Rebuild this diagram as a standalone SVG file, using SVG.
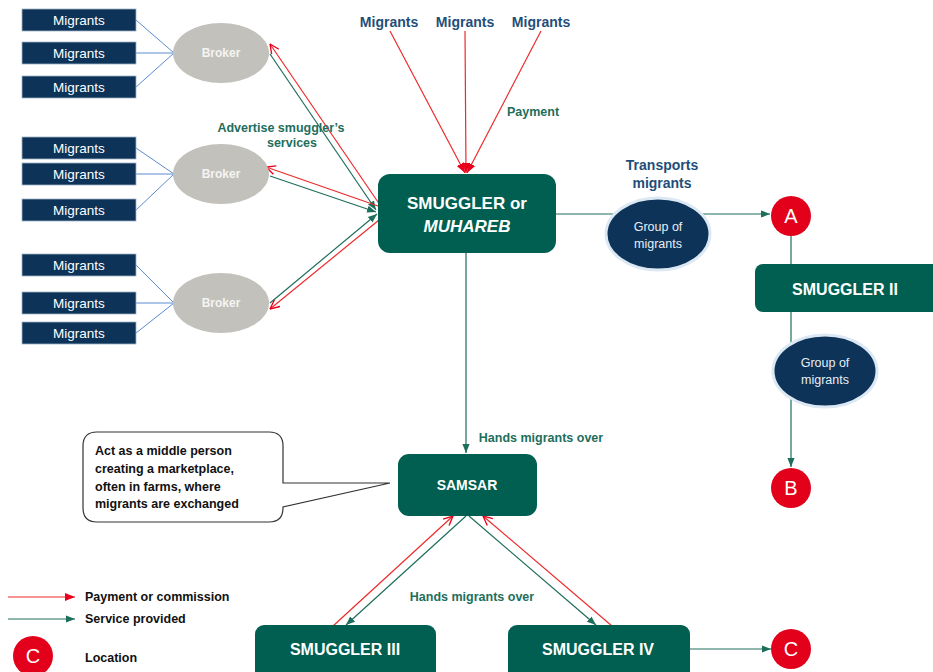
<svg xmlns="http://www.w3.org/2000/svg" width="933" height="672" viewBox="0 0 933 672">
<defs>
<style>
.mig{fill:#0d3358;stroke:#9fb3c8;stroke-width:0.8}
.migt{font-family:"Liberation Sans",Arial,sans-serif;font-size:13.5px;fill:#ffffff;text-anchor:middle}
.brk{fill:#c3c1bc}
.brkt{font-family:"Liberation Sans",Arial,sans-serif;font-size:12px;font-weight:bold;fill:#f4f4f2;text-anchor:middle}
.box{fill:#005f50}
.boxt{font-family:"Liberation Sans",Arial,sans-serif;font-size:16px;font-weight:bold;fill:#ffffff;text-anchor:middle}
.grp{fill:#0d3358;stroke:#dce8f3;stroke-width:3}
.grpt{font-family:"Liberation Sans",Arial,sans-serif;font-size:12.5px;fill:#e8eef5;text-anchor:middle}
.loc{fill:#e2001a}
.loct{font-family:"Liberation Sans",Arial,sans-serif;font-size:20px;fill:#ffffff;text-anchor:middle}
.lbl{font-family:"Liberation Sans",Arial,sans-serif;font-size:12.5px;font-weight:bold;fill:#1e6e5c;text-anchor:middle}
.nlbl{font-family:"Liberation Sans",Arial,sans-serif;font-size:14px;font-weight:bold;fill:#1f4e79;text-anchor:middle}
.leg{font-family:"Liberation Sans",Arial,sans-serif;font-size:12.5px;font-weight:bold;fill:#111111}
.call{font-family:"Liberation Sans",Arial,sans-serif;font-size:12.5px;font-weight:bold;fill:#111111}
.blue{stroke:#5b8bd0;stroke-width:1;fill:none}
.red{stroke:#ee2a2a;stroke-width:1.2;fill:none}
.grn{stroke:#1e6e5c;stroke-width:1.2;fill:none}
</style>
<marker id="ro" viewBox="0 0 10 10" refX="9.5" refY="5" markerWidth="11" markerHeight="11" orient="auto" markerUnits="userSpaceOnUse">
<path d="M1,1 L9.5,5 L1,9" fill="none" stroke="#e8001c" stroke-width="1.2"/>
</marker>
<marker id="rf" viewBox="0 0 10 10" refX="10" refY="5" markerWidth="10" markerHeight="10" orient="auto" markerUnits="userSpaceOnUse">
<path d="M0,1 L10,5 L0,9 z" fill="#e8001c"/>
</marker>
<marker id="gf" viewBox="0 0 10 10" refX="10" refY="5" markerWidth="9" markerHeight="9" orient="auto" markerUnits="userSpaceOnUse">
<path d="M0,1 L10,5 L0,9 z" fill="#1e6e5c"/>
</marker>
</defs>
<rect width="933" height="672" fill="#ffffff"/>

<g id="connectors">
<path class="blue" d="M136,20 L174,53 M136,53 L174,53 M136,87 L174,53"/>
<path class="blue" d="M136,148 L174,174 M136,174 L174,174 M136,210 L174,174"/>
<path class="blue" d="M136,265 L174,303 M136,303 L174,303 M136,333 L174,303"/>
<line class="red" x1="380" y1="205" x2="270" y2="44" marker-end="url(#ro)"/>
<line class="grn" x1="270" y1="54" x2="376" y2="210" marker-end="url(#gf)"/>
<line class="red" x1="378" y1="206" x2="266" y2="167" marker-end="url(#ro)"/>
<line class="grn" x1="270" y1="176" x2="376" y2="212" marker-end="url(#gf)"/>
<line class="grn" x1="270" y1="303" x2="377" y2="214" marker-end="url(#gf)"/>
<line class="red" x1="379" y1="220" x2="270" y2="309" marker-end="url(#ro)"/>
<line class="red" x1="390" y1="31" x2="465" y2="173" marker-end="url(#rf)"/>
<line class="red" x1="465" y1="31" x2="466" y2="173" marker-end="url(#rf)"/>
<line class="red" x1="541" y1="31" x2="467" y2="173" marker-end="url(#rf)"/>
<line class="grn" x1="556" y1="214" x2="770" y2="214" marker-end="url(#gf)"/>
<line class="grn" x1="791" y1="236" x2="791" y2="467" marker-end="url(#gf)"/>
<line class="grn" x1="466" y1="253" x2="466" y2="453" marker-end="url(#gf)"/>
<line class="red" x1="333" y1="626" x2="453" y2="516" marker-end="url(#ro)"/>
<line class="grn" x1="466" y1="516" x2="346" y2="625" marker-end="url(#gf)"/>
<line class="grn" x1="469" y1="516" x2="596" y2="625" marker-end="url(#gf)"/>
<line class="red" x1="612" y1="626" x2="483" y2="516" marker-end="url(#ro)"/>
<line class="grn" x1="690" y1="649" x2="771" y2="649" marker-end="url(#gf)"/>
</g>

<g id="migrants-1"><rect class="mig" x="22" y="9" width="114" height="22"/><text class="migt" x="79" y="25">Migrants</text></g>
<g id="migrants-2"><rect class="mig" x="22" y="42" width="114" height="22"/><text class="migt" x="79" y="58">Migrants</text></g>
<g id="migrants-3"><rect class="mig" x="22" y="76" width="114" height="22"/><text class="migt" x="79" y="92">Migrants</text></g>
<g id="migrants-4"><rect class="mig" x="22" y="137" width="114" height="22"/><text class="migt" x="79" y="153">Migrants</text></g>
<g id="migrants-5"><rect class="mig" x="22" y="163" width="114" height="22"/><text class="migt" x="79" y="179">Migrants</text></g>
<g id="migrants-6"><rect class="mig" x="22" y="199" width="114" height="22"/><text class="migt" x="79" y="215">Migrants</text></g>
<g id="migrants-7"><rect class="mig" x="22" y="254" width="114" height="22"/><text class="migt" x="79" y="270">Migrants</text></g>
<g id="migrants-8"><rect class="mig" x="22" y="292" width="114" height="22"/><text class="migt" x="79" y="308">Migrants</text></g>
<g id="migrants-9"><rect class="mig" x="22" y="322" width="114" height="22"/><text class="migt" x="79" y="338">Migrants</text></g>

<g id="broker-1"><ellipse class="brk" cx="221" cy="53" rx="48" ry="30"/><text class="brkt" x="221" y="57">Broker</text></g>
<g id="broker-2"><ellipse class="brk" cx="221" cy="174" rx="48" ry="30"/><text class="brkt" x="221" y="178">Broker</text></g>
<g id="broker-3"><ellipse class="brk" cx="221" cy="303" rx="48" ry="30"/><text class="brkt" x="221" y="307">Broker</text></g>

<g id="top-migrants">
<text class="nlbl" x="389" y="27">Migrants</text>
<text class="nlbl" x="465" y="27">Migrants</text>
<text class="nlbl" x="541" y="27">Migrants</text>
</g>

<g id="labels">
<text class="lbl" x="533" y="116">Payment</text>
<text class="lbl" x="281" y="132">Advertise smuggler’s</text>
<text class="lbl" x="292" y="147">services</text>
<text class="nlbl" x="662" y="170">Transports</text>
<text class="nlbl" x="662" y="188">migrants</text>
<text class="lbl" x="541" y="442">Hands migrants over</text>
<text class="lbl" x="472" y="601">Hands migrants over</text>
</g>

<g id="smuggler">
<rect class="box" x="378" y="174" width="178" height="79" rx="12"/>
<text class="boxt" x="467" y="209" style="font-size:17px">SMUGGLER or</text>
<text class="boxt" x="467" y="232" style="font-size:17px;font-style:italic">MUHAREB</text>
</g>

<g id="group-1"><ellipse class="grp" cx="658" cy="234" rx="52" ry="36"/><text class="grpt" x="658" y="231">Group of</text><text class="grpt" x="658" y="248">migrants</text></g>

<g id="loc-a"><circle class="loc" cx="791" cy="216" r="20"/><text class="loct" x="791" y="223">A</text></g>

<g id="smuggler-2"><rect class="box" x="755" y="264" width="190" height="48" rx="8"/><text class="boxt" x="845" y="295">SMUGGLER II</text></g>

<g id="group-2"><ellipse class="grp" cx="825" cy="371" rx="52" ry="36"/><text class="grpt" x="825" y="367">Group of</text><text class="grpt" x="825" y="384">migrants</text></g>

<g id="loc-b"><circle class="loc" cx="791" cy="488" r="20"/><text class="loct" x="791" y="495">B</text></g>

<g id="samsar"><rect class="box" x="398" y="454" width="139" height="62" rx="11"/><text class="boxt" x="467" y="490" style="font-size:14px">SAMSAR</text></g>

<g id="callout">
<path d="M97,432 H269 Q283,432 283,446 V483 L390,483 L283,507 V508 Q283,522 269,522 H97 Q83,522 83,508 V446 Q83,432 97,432 Z" fill="#ffffff" stroke="#333333" stroke-width="1.2"/>
<text class="call" x="95" y="455">Act as a middle person</text>
<text class="call" x="95" y="473">creating a marketplace,</text>
<text class="call" x="95" y="491">often in farms, where</text>
<text class="call" x="95" y="508">migrants are exchanged</text>
</g>

<g id="smuggler-3"><rect class="box" x="255" y="625" width="181" height="60" rx="9"/><text class="boxt" x="345" y="655">SMUGGLER III</text></g>
<g id="smuggler-4"><rect class="box" x="508" y="625" width="182" height="60" rx="9"/><text class="boxt" x="598" y="655">SMUGGLER IV</text></g>
<g id="loc-c"><circle class="loc" cx="791" cy="649" r="20"/><text class="loct" x="791" y="656">C</text></g>

<g id="legend">
<line class="red" x1="8" y1="597" x2="75" y2="597" marker-end="url(#rf)"/>
<text class="leg" x="85" y="601">Payment or commission</text>
<line class="grn" x1="8" y1="619" x2="75" y2="619" marker-end="url(#gf)"/>
<text class="leg" x="85" y="623">Service provided</text>
<circle class="loc" cx="33" cy="656" r="20"/><text class="loct" x="33" y="663">C</text>
<text class="leg" x="85" y="662">Location</text>
</g>
</svg>
